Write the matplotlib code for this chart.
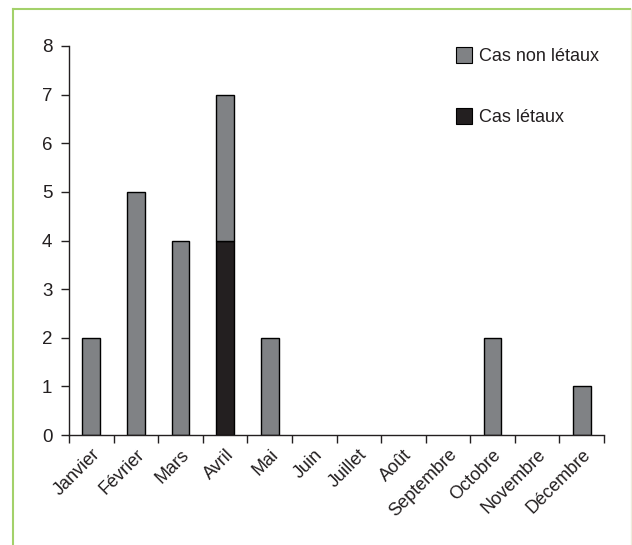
import matplotlib
matplotlib.use("Agg")
import matplotlib.pyplot as plt
import numpy as np
from matplotlib.lines import Line2D
from matplotlib.patches import Patch

months = ["Janvier", "Février", "Mars", "Avril", "Mai", "Juin", "Juillet",
          "Août", "Septembre", "Octobre", "Novembre", "Décembre"]
cas_letaux = [0, 0, 0, 4, 0, 0, 0, 0, 0, 0, 0, 0]
cas_non_letaux = [2, 5, 4, 3, 2, 0, 0, 0, 0, 2, 0, 1]
y_ticks = [0, 1, 2, 3, 4, 5, 6, 7, 8]

plt.rcParams['font.family'] = ['Liberation Sans', 'DejaVu Sans']
TXT = '#231f20'
GRAY = '#808285'
DARK = '#231f20'
FS = 13

fig = plt.figure(figsize=(6.32, 5.45), dpi=100)
ax = fig.add_axes([69/632, 1 - 435/545, (604 - 69)/632, (435 - 46)/545])

x = np.arange(len(months))
lw_let = [1.0 if v > 0 else 0 for v in cas_letaux]
lw_non = [1.0 if v > 0 else 0 for v in cas_non_letaux]
ax.bar(x, cas_letaux, width=0.4, color=DARK, edgecolor='black', linewidth=lw_let)
ax.bar(x, cas_non_letaux, width=0.4, bottom=cas_letaux, color=GRAY,
       edgecolor='black', linewidth=lw_non)

ax.tick_params(axis='x', which='minor', length=0, pad=8)
ax.tick_params(axis='x', which='major', length=6, width=1, color=TXT, direction='out')
ax.tick_params(axis='y', length=6, width=1, color=TXT, direction='out', pad=6,
               labelsize=13.5, labelcolor=TXT)

ax.set_xlim(-0.5, len(months) - 0.5)
ax.set_ylim(0, 8)
ax.set_yticks(y_ticks)
ax.set_yticklabels([str(v) for v in y_ticks], fontsize=13.5, color=TXT)
ax.set_xticks(np.arange(-0.5, len(months), 1))
ax.set_xticklabels([])
ax.set_xticks(x, minor=True)
ax.set_xticklabels(months, minor=True, rotation=45, ha='right',
                   rotation_mode='anchor', fontsize=FS, color=TXT)

for s in ['top', 'right']:
    ax.spines[s].set_visible(False)
for s in ['left', 'bottom']:
    ax.spines[s].set_color(TXT)
    ax.spines[s].set_linewidth(1.0)

handles = [Patch(facecolor=GRAY, edgecolor='black', linewidth=0.8),
           Patch(facecolor=DARK, edgecolor='black', linewidth=0.8)]
leg = ax.legend(handles, ["Cas non létaux", "Cas létaux"], loc='upper left',
                bbox_to_anchor=(0.697, 1.035), frameon=False, fontsize=FS,
                handlelength=0.85, handleheight=1.0, handletextpad=0.4,
                labelspacing=2.35, borderpad=0.3)
for t in leg.get_texts():
    t.set_color(TXT)

green = '#a3d16a'
fig.add_artist(Line2D([13/632, 13/632], [0, 1 - 9/545], transform=fig.transFigure,
                      color=green, linewidth=1.5))
fig.add_artist(Line2D([13/632, 630/632], [1 - 9/545, 1 - 9/545], transform=fig.transFigure,
                      color=green, linewidth=1.5))
fig.add_artist(Line2D([631/632, 631/632], [0, 1 - 9/545], transform=fig.transFigure,
                      color='#eeeedd', linewidth=1.0))

fig.savefig("out.png", dpi=100)
